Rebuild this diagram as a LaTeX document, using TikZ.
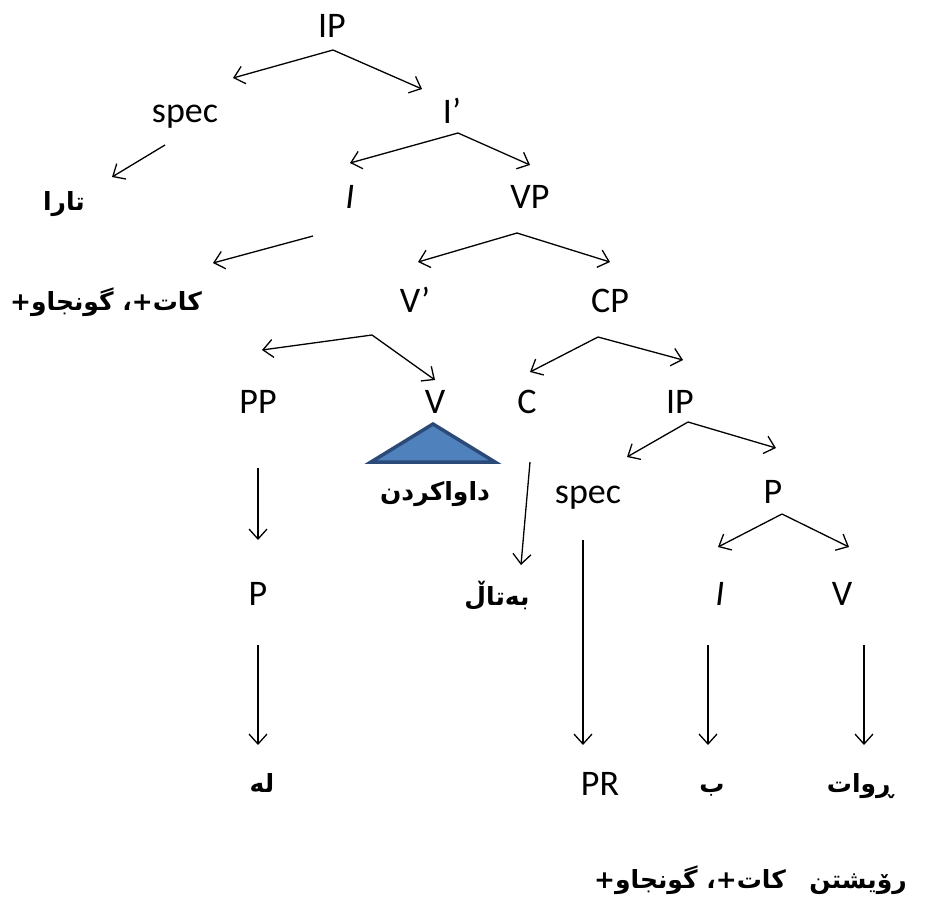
\documentclass[tikz,border=0pt]{standalone}
\usepackage{fontspec}
\setmainfont{Carlito}
\newfontfamily\arabicfont[Script=Arabic]{DejaVu Sans}
\TeXXeTstate=1
\usetikzlibrary{arrows.meta}
\definecolor{trifill}{HTML}{4F81BD}
\definecolor{triline}{HTML}{2C4A78}
\begin{document}
\begin{tikzpicture}[x=1pt,y=-1pt,
  lat/.style={font=\fontsize{36}{40}\selectfont, inner sep=0pt, anchor=base},
  lati/.style={font=\fontsize{36}{40}\selectfont\itshape, inner sep=0pt, anchor=base},
  ar/.style={font=\fontsize{25}{30}\selectfont\arabicfont\bfseries, inner sep=0pt, anchor=base},
  arr/.style={line width=1.3pt, -{Straight Barb[length=10pt,width=18pt]}}]
\useasboundingbox (0,0) rectangle (938,906);
% Latin nodes
\node[lat] (IPa) at (332,37) {IP};
\node[lat] (speca) at (185,122) {spec};
\node[lat] (Ibar) at (452,123) {I’};
\node[lati] (Ia) at (350,208) {I};
\node[lat] (VP) at (530,208) {VP};
\node[lat] (Vbar) at (415,312) {V’};
\node[lat] (CP) at (610,312) {CP};
\node[lat] (PP) at (258,413) {PP};
\node[lat] (V) at (435,413) {V};
\node[lat] (C) at (527,413) {C};
\node[lat] (IPb) at (680,413) {IP};
\node[lat] (specb) at (588,503) {spec};
\node[lat] (Pa) at (773,503) {P};
\node[lat] (Pb) at (258,605) {P};
\node[lati] (Ib) at (720,605) {I};
\node[lat] (Vb) at (842,605) {V};
\node[lat] (PR) at (600,795) {PR};
% Arabic nodes
\node[ar] (tara) at (64,210) {\beginR تارا\endR};
\node[ar] (kg1) at (106,310) {\beginR كات+، گونجاو+\endR};
\node[ar] (dawa) at (435,500) {\beginR داواكردن\endR};
\node[ar] (betal) at (497,605) {\beginR بەتاڵ\endR};
\node[ar] (le) at (262,792) {\beginR له\endR};
\node[ar] (be) at (712,792) {\beginR ب\endR};
\node[ar] (rewat) at (860,792) {\beginR ڕوات\endR};
\node[ar] (kg2) at (690,888) {\beginR كات+، گونجاو+\endR};
\node[ar] (roy) at (858,888) {\beginR رۆيشتن\endR};
% triangle
\draw[line width=3.5pt, fill=trifill, draw=triline, line join=miter] (433,424) -- (495,462) -- (371,462) -- cycle;
% connector points
\coordinate (IPa-s) at (333,50);
\coordinate (IPa-l) at (233,78);
\coordinate (IPa-r) at (422,89);
\coordinate (speca-s) at (165,145);
\coordinate (speca-e) at (112,177);
\coordinate (Ibar-s) at (458,133);
\coordinate (Ibar-l) at (350,163);
\coordinate (Ibar-r) at (530,165);
\coordinate (Ia-s) at (313,236);
\coordinate (Ia-e) at (213,263);
\coordinate (VP-s) at (517,233);
\coordinate (VP-l) at (418,262);
\coordinate (VP-r) at (610,262);
\coordinate (Vbar-s) at (372,335);
\coordinate (Vbar-l) at (262,350);
\coordinate (Vbar-r) at (435,380);
\coordinate (CP-s) at (598,337);
\coordinate (CP-l) at (530,372);
\coordinate (CP-r) at (683,360);
\coordinate (PP-s) at (258,468);
\coordinate (PP-e) at (258,540);
\coordinate (C-s) at (530,462);
\coordinate (C-e) at (521,565);
\coordinate (IPb-s) at (688,422);
\coordinate (IPb-l) at (627,457);
\coordinate (IPb-r) at (776,448);
\coordinate (Pa-s) at (782,514);
\coordinate (Pa-l) at (718,547);
\coordinate (Pa-r) at (849,547);
\coordinate (Pb-s) at (258,645);
\coordinate (Pb-e) at (258,745);
\coordinate (specb-s) at (583,540);
\coordinate (specb-e) at (583,745);
\coordinate (Ib-s) at (708,645);
\coordinate (Ib-e) at (708,745);
\coordinate (Vb-s) at (864,645);
\coordinate (Vb-e) at (864,745);
% connectors
\draw[arr] (IPa-s) -- (IPa-l);
\draw[arr] (IPa-s) -- (IPa-r);
\draw[arr] (speca-s) -- (speca-e);
\draw[arr] (Ibar-s) -- (Ibar-l);
\draw[arr] (Ibar-s) -- (Ibar-r);
\draw[arr] (Ia-s) -- (Ia-e);
\draw[arr] (VP-s) -- (VP-l);
\draw[arr] (VP-s) -- (VP-r);
\draw[arr] (Vbar-s) -- (Vbar-l);
\draw[arr] (Vbar-s) -- (Vbar-r);
\draw[arr] (CP-s) -- (CP-l);
\draw[arr] (CP-s) -- (CP-r);
\draw[arr] (PP-s) -- (PP-e);
\draw[arr] (C-s) -- (C-e);
\draw[arr] (IPb-s) -- (IPb-l);
\draw[arr] (IPb-s) -- (IPb-r);
\draw[arr] (Pa-s) -- (Pa-l);
\draw[arr] (Pa-s) -- (Pa-r);
\draw[arr] (Pb-s) -- (Pb-e);
\draw[arr] (specb-s) -- (specb-e);
\draw[arr] (Ib-s) -- (Ib-e);
\draw[arr] (Vb-s) -- (Vb-e);
\end{tikzpicture}
\end{document}
